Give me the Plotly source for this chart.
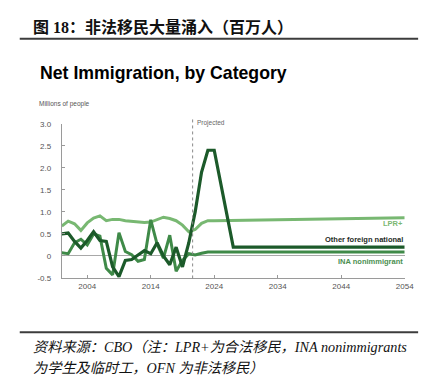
import plotly.graph_objects as go

# ---------------- data ----------------
years_lpr = [2000, 2001, 2002, 2003, 2004, 2005, 2006, 2007, 2008, 2009, 2010,
             2011, 2012, 2013, 2014, 2015, 2016, 2017, 2018, 2019, 2020, 2021,
             2022, 2023, 2024, 2054]
lpr_plus = [0.68, 0.79, 0.73, 0.58, 0.75, 0.86, 0.91, 0.80, 0.83, 0.83, 0.80,
            0.79, 0.78, 0.76, 0.77, 0.82, 0.88, 0.85, 0.80, 0.70, 0.55, 0.60,
            0.74, 0.80, 0.80, 0.87]

years_ofn = [2000, 2001, 2002, 2003, 2004, 2005, 2006, 2007, 2008, 2009, 2010,
             2011, 2012, 2013, 2014, 2015, 2016, 2017, 2018, 2019, 2020, 2021,
             2022, 2023, 2024, 2027, 2054]
other_foreign = [0.50, 0.52, 0.33, 0.18, 0.35, 0.55, 0.35, 0.33, -0.25, -0.47, -0.10,
                 -0.08, 0.02, 0.12, 0.05, 0.30, 0.00, -0.20, 0.20, -0.25, 0.30, 1.00,
                 1.90, 2.40, 2.40, 0.20, 0.20]

years_ina = [2000, 2001, 2002, 2003, 2004, 2005, 2006, 2007, 2008, 2009, 2010,
             2011, 2012, 2013, 2014, 2015, 2016, 2017, 2018, 2019, 2020, 2021,
             2022, 2023, 2054]
ina_nonimm = [0.07, 0.05, 0.30, 0.38, 0.25, 0.50, 0.45, -0.28, -0.43, 0.53, 0.10,
              0.03, -0.12, -0.08, 0.82, 0.27, -0.05, 0.47, -0.35, -0.10, 0.05, 0.02,
              0.06, 0.09, 0.09]

y_ticks = [-0.5, 0, 0.5, 1.0, 1.5, 2.0, 2.5, 3.0]
y_ticktext = ["-0.5", "0", "0.5", "1.0", "1.5", "2.0", "2.5", "3.0"]
x_ticks = [2004, 2014, 2024, 2034, 2044, 2054]
projected_year = 2020.6

C_LPR = "#78b872"
C_OFN = "#1c5a2a"
C_INA = "#3f8a48"

# the page body has an 8px margin, so the figure is placed at (8, 8)
OFF = 8
W, H = 433 - OFF, 383 - OFF
def px(x):
    return (x - OFF) / W
def py(y):
    return 1 - (y - OFF) / H

fig = go.Figure()
fig.add_trace(go.Scatter(x=years_lpr, y=lpr_plus, mode="lines", name="LPR+",
                         line=dict(color=C_LPR, width=3)))
fig.add_trace(go.Scatter(x=years_ina, y=ina_nonimm, mode="lines", name="INA nonimmigrant",
                         line=dict(color=C_INA, width=3)))
fig.add_trace(go.Scatter(x=years_ofn, y=other_foreign, mode="lines", name="Other foreign national",
                         line=dict(color=C_OFN, width=3.2)))

fig.update_layout(
    width=W, height=H, margin=dict(l=0, r=0, t=0, b=0),
    paper_bgcolor="white", plot_bgcolor="white", showlegend=False,
    xaxis=dict(domain=[px(63), px(413.3)], range=[2000, 2054], tickvals=x_ticks,
               showgrid=False, zeroline=False, showline=True, linecolor="#9a9a9a", linewidth=1,
               ticks="inside", ticklen=3, tickcolor="#9a9a9a",
               tickfont=dict(family="Liberation Sans, Arial", size=8, color="#555555")),
    yaxis=dict(domain=[py(280.5), py(122.6)], range=[-0.5, 3.0], tickvals=y_ticks,
               ticktext=y_ticktext, showgrid=False, zeroline=True, zerolinecolor="#a8a8a8",
               zerolinewidth=1, showline=True, linecolor="#9a9a9a", linewidth=1,
               ticks="inside", ticklen=3, tickcolor="#9a9a9a", ticklabelstandoff=8,
               tickfont=dict(family="Liberation Sans, Arial", size=8, color="#555555")),
)

# projected divider
fig.add_shape(type="line", xref="x", yref="paper", x0=projected_year, x1=projected_year,
              y0=py(281), y1=py(118), line=dict(color="#8a8a8a", width=1, dash="dot"))

for yy in (35.5, 336):
    fig.add_shape(type="line", xref="paper", yref="paper", x0=px(20), x1=px(427),
                  y0=py(yy), y1=py(yy), line=dict(color="#3c3c3c", width=2))

ann = []
ann.append(dict(text="<b>图 18：非法移民大量涌入（百万人）</b>", x=px(31), y=py(23),
                xanchor="left", yanchor="middle",
                font=dict(family="Liberation Serif, Noto Sans CJK SC", size=16, color="#111111")))
ann.append(dict(text="<b>Net Immigration, by Category</b>", x=px(39), y=py(70),
                xanchor="left", yanchor="middle",
                font=dict(family="Liberation Sans, Arial", size=17.7, color="#000000")))
ann.append(dict(text="Millions of people", x=px(38), y=py(102.5), xanchor="left", yanchor="middle",
                font=dict(family="Liberation Sans, Arial", size=6.5, color="#555555")))
ann.append(dict(text="Projected", x=px(199), y=py(122), xanchor="left", yanchor="middle",
                font=dict(family="Liberation Sans, Arial", size=6.5, color="#666666")))
ann.append(dict(text="<b>LPR+</b>", x=px(413.5), y=py(225), xanchor="right", yanchor="middle",
                font=dict(family="Liberation Sans, Arial", size=7.5, color="#7bb872")))
ann.append(dict(text="<b>Other foreign national</b>", x=px(413.5), y=py(241), xanchor="right",
                yanchor="middle", font=dict(family="Liberation Sans, Arial", size=7.5, color="#1e2a1e")))
ann.append(dict(text="<b>INA nonimmigrant</b>", x=px(413.5), y=py(263.5), xanchor="right",
                yanchor="middle", font=dict(family="Liberation Sans, Arial", size=7.5, color="#4a8f50")))
ann.append(dict(text="资料来源：CBO（注：LPR+为合法移民，INA nonimmigrants", x=px(31), y=py(351),
                xanchor="left", yanchor="middle",
                font=dict(family="Liberation Serif, Noto Sans CJK SC", size=14.2, color="#111111",
                          style="italic")))
ann.append(dict(text="为学生及临时工，OFN 为非法移民）", x=px(31), y=py(373),
                xanchor="left", yanchor="middle",
                font=dict(family="Liberation Serif, Noto Sans CJK SC", size=14.2, color="#111111",
                          style="italic")))
for a in ann:
    a.update(xref="paper", yref="paper", showarrow=False)
fig.update_layout(annotations=ann)

fig.write_html("out.html")
